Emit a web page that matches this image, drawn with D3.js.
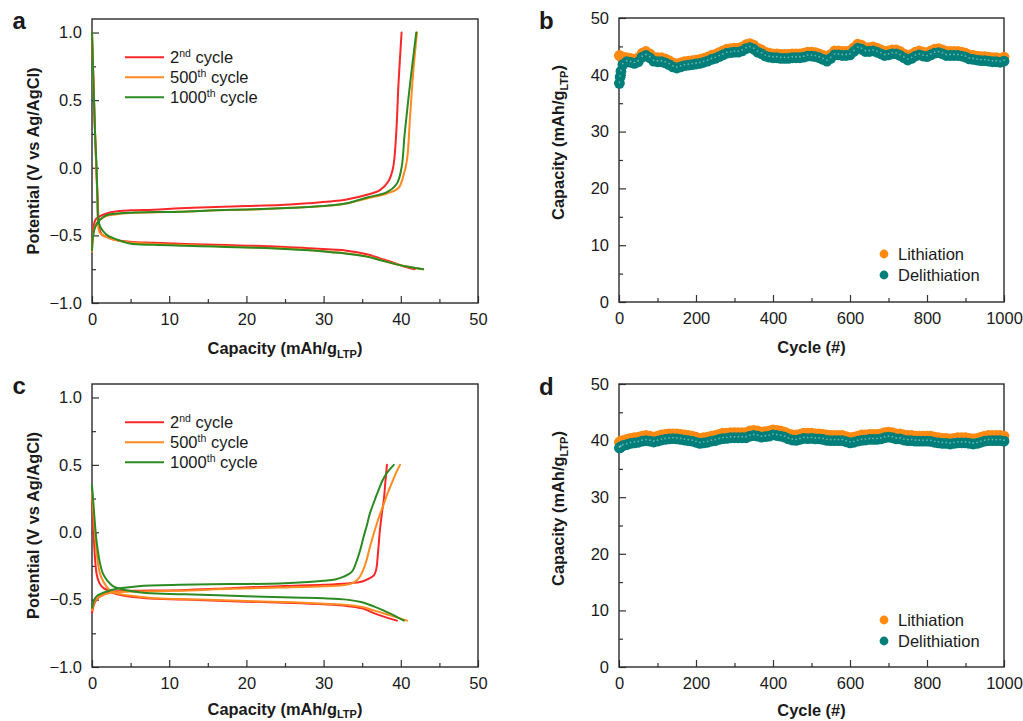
<!DOCTYPE html>
<html>
<head>
<meta charset="utf-8">
<script src="https://cdn.jsdelivr.net/npm/d3@7"></script>
<style>
  html, body { margin: 0; padding: 0; background: #ffffff; }
  svg { display: block; }
  text { font-family: "Liberation Sans", Arial, sans-serif; fill: #1a1a1a; }
</style>
</head>
<body>
<svg id="fig" width="1023" height="721"></svg>
<script>
// ---------- tick values ----------
const potentialTicks = [-1.0, -0.5, 0.0, 0.5, 1.0];
const potentialMinor = [-0.75, -0.25, 0.25, 0.75];
const capacityXTicks = [0, 10, 20, 30, 40, 50];
const capacityXMinor = [5, 15, 25, 35, 45];
const cycleTicks = [0, 200, 400, 600, 800, 1000];
const cycleMinor = [100, 300, 500, 700, 900];
const capacityYTicks = [0, 10, 20, 30, 40, 50];
const capacityYMinor = [5, 15, 25, 35, 45];

// ---------- legend labels ----------
const cycleLabelNum = ["2", "500", "1000"];
const cycleLabelSup = ["nd", "th", "th"];
const cycleColors = ["#f82828", "#ff8a1f", "#2b8a22"];
const efficiencyLabels = ["Lithiation", "Delithiation"];
const efficiencyColors = ["#ff8a12", "#007f7a"];

// ---------- panel a : [capacity, potential] ----------
const a2ndDischarge = [[0,1.0],[0.1,0.8],[0.26,0.5],[0.4,0.25],[0.56,0.0],[0.73,-0.24],[0.85,-0.38],[1.0,-0.46],[1.3,-0.495],[2,-0.515],[2.8,-0.53],[4.9,-0.547],[8,-0.555],[12,-0.563],[16,-0.57],[20,-0.576],[24.4,-0.584],[28,-0.595],[31,-0.605],[33,-0.613],[35.6,-0.64],[37.3,-0.67],[38.7,-0.695],[39.9,-0.72],[41.0,-0.74],[41.8,-0.75]];
const a500Discharge = [[0,1.0],[0.1,0.8],[0.26,0.5],[0.4,0.25],[0.56,0.0],[0.7,-0.25],[0.82,-0.44],[1.0,-0.48],[1.46,-0.5],[2.0,-0.515],[2.76,-0.53],[4.9,-0.553],[8,-0.563],[12,-0.572],[16,-0.58],[20,-0.587],[24.4,-0.596],[28,-0.608],[31,-0.622],[33,-0.633],[35.6,-0.655],[37.3,-0.68],[39.9,-0.72],[41.5,-0.737],[42.9,-0.75]];
const a1000Discharge = [[0,1.0],[0.1,0.8],[0.26,0.5],[0.4,0.25],[0.56,0.05],[0.7,-0.2],[0.82,-0.386],[1.1,-0.44],[1.46,-0.47],[2.0,-0.5],[2.76,-0.52],[4.9,-0.56],[8,-0.57],[12,-0.577],[16,-0.583],[20,-0.59],[24.4,-0.598],[28,-0.61],[31,-0.624],[33,-0.635],[35.6,-0.657],[37.3,-0.682],[39.9,-0.72],[41.5,-0.737],[42.9,-0.75]];
const a2ndCharge = [[0,-0.6],[0.1,-0.5],[0.25,-0.42],[0.5,-0.38],[1.0,-0.36],[1.8,-0.34],[2.8,-0.325],[5,-0.315],[8,-0.31],[11.4,-0.3],[16,-0.29],[20,-0.283],[24.4,-0.275],[28,-0.262],[30.8,-0.25],[33,-0.235],[35.6,-0.2],[37.3,-0.165],[38.4,-0.1],[39.0,0.0],[39.4,0.25],[39.7,0.62],[40.1,1.0]];
const a500Charge = [[0,-0.62],[0.1,-0.52],[0.3,-0.45],[0.6,-0.41],[1.0,-0.386],[1.9,-0.355],[3,-0.345],[5,-0.335],[8,-0.33],[11.4,-0.325],[16,-0.315],[20,-0.31],[24.4,-0.3],[28,-0.29],[31,-0.28],[33,-0.265],[35.6,-0.227],[38.2,-0.19],[39.7,-0.15],[40.3,-0.066],[40.8,0.057],[41.2,0.377],[41.6,0.7],[42.1,1.0]];
const a1000Charge = [[0,-0.61],[0.1,-0.52],[0.4,-0.44],[1.0,-0.386],[1.9,-0.35],[3,-0.34],[5,-0.333],[8,-0.328],[11.4,-0.325],[16,-0.315],[20,-0.308],[24.4,-0.3],[28,-0.29],[31,-0.278],[33,-0.262],[35.6,-0.22],[38.2,-0.18],[39.5,-0.116],[40.1,0.0],[40.5,0.25],[41.2,0.62],[42.0,1.0]];

// ---------- panel c : [capacity, potential] ----------
const c2ndDischarge = [[0,0.25],[0.2,0.0],[0.4,-0.2],[0.6,-0.31],[0.9,-0.37],[1.4,-0.41],[2.0,-0.43],[2.7,-0.45],[4,-0.47],[7,-0.49],[12,-0.5],[20,-0.515],[26,-0.525],[30,-0.535],[33,-0.547],[35,-0.565],[36.5,-0.6],[38,-0.63],[39.5,-0.656]];
const c500Discharge = [[0,0.3],[0.3,0.05],[0.6,-0.15],[1.0,-0.3],[1.5,-0.37],[2.2,-0.425],[3,-0.45],[4.8,-0.47],[8,-0.49],[14,-0.5],[20,-0.51],[26,-0.52],[30,-0.53],[33,-0.54],[35,-0.555],[36.5,-0.58],[38.5,-0.615],[40.8,-0.656]];
const c1000Discharge = [[0,0.35],[0.2,0.2],[0.4,0.05],[0.6,-0.07],[1.0,-0.22],[1.4,-0.305],[2.0,-0.36],[2.7,-0.4],[4,-0.425],[7,-0.45],[12,-0.46],[20,-0.475],[26,-0.485],[30,-0.49],[33,-0.5],[35,-0.52],[36.5,-0.55],[38.5,-0.6],[40.4,-0.656]];
const c2ndCharge = [[0,-0.6],[0.3,-0.53],[0.6,-0.5],[1.0,-0.478],[1.6,-0.46],[2.7,-0.44],[5,-0.435],[11.4,-0.43],[18,-0.415],[24.3,-0.4],[30,-0.39],[33,-0.38],[35,-0.365],[36,-0.34],[36.5,-0.32],[36.8,-0.28],[37.05,-0.15],[37.3,0.017],[37.55,0.14],[37.8,0.24],[38.0,0.37],[38.2,0.5]];
const c500Charge = [[0,-0.58],[0.3,-0.52],[0.7,-0.49],[1.2,-0.47],[2,-0.455],[3,-0.445],[5,-0.44],[11,-0.435],[18,-0.42],[24.3,-0.41],[30,-0.4],[33,-0.39],[34,-0.37],[34.7,-0.33],[35.2,-0.27],[35.6,-0.2],[36.0,-0.11],[36.5,-0.01],[37.1,0.1],[37.8,0.21],[38.3,0.29],[38.8,0.36],[39.3,0.43],[39.9,0.5]];
const c1000Charge = [[0,-0.56],[0.3,-0.5],[0.7,-0.47],[1.4,-0.45],[2.4,-0.43],[3.6,-0.416],[6,-0.4],[11.4,-0.39],[18,-0.385],[24.3,-0.38],[28,-0.37],[30,-0.36],[31.5,-0.35],[32.6,-0.33],[33.7,-0.29],[34.3,-0.21],[34.8,-0.12],[35.2,-0.03],[35.6,0.05],[36.0,0.14],[36.5,0.22],[37.1,0.31],[37.6,0.38],[38.2,0.44],[39.1,0.5]];

// ---------- panels b and d : capacity per cycle ----------
const cycleNo = [1,3,5,10,20,30,40,50,60,70,80,90,100,110,120,130,140,150,160,170,180,190,200,210,220,230,240,250,260,270,280,290,300,310,320,330,340,350,360,370,380,390,400,410,420,430,440,450,460,470,480,490,500,510,520,530,540,550,560,570,580,590,600,610,620,630,640,650,660,670,680,690,700,710,720,730,740,750,760,770,780,790,800,810,820,830,840,850,860,870,880,890,900,910,920,930,940,950,960,970,980,990,1000];

const bLithiation = [43.4,43.3,43.2,43.1,43.0,42.9,42.7,43.0,43.8,44.1,43.7,43.1,43.0,43.0,42.8,42.5,42.1,41.9,42.1,42.3,42.4,42.5,42.6,42.7,42.9,43.1,43.4,43.6,43.9,44.2,44.5,44.6,44.7,44.7,44.9,45.3,45.5,45.2,44.7,44.4,44.0,43.8,43.7,43.7,43.6,43.6,43.6,43.7,43.7,43.7,43.8,44.0,44.0,43.9,43.7,43.4,43.1,43.6,44.2,44.2,44.1,44.1,44.2,44.8,45.4,45.2,44.8,44.8,44.9,44.7,44.4,44.1,44.2,44.4,44.4,44.1,43.7,43.3,43.6,44.0,44.2,44.0,43.9,44.2,44.5,44.6,44.4,44.1,44.1,44.1,44.1,44.0,43.8,43.5,43.4,43.3,43.2,43.2,43.1,43.0,43.0,42.9,43.1];
const bDelithiation = [38.5,39.6,40.6,41.8,42.3,42.2,42.0,42.3,43.1,43.4,43.0,42.4,42.3,42.3,42.1,41.8,41.4,41.2,41.4,41.6,41.7,41.8,41.9,42.0,42.2,42.4,42.7,42.9,43.2,43.5,43.8,43.9,44.0,44.0,44.2,44.6,44.8,44.5,44.0,43.7,43.3,43.1,43.0,43.0,42.9,42.9,42.9,43.0,43.0,43.0,43.1,43.3,43.3,43.2,43.0,42.7,42.4,42.9,43.5,43.5,43.4,43.4,43.5,44.1,44.7,44.5,44.1,44.1,44.2,44.0,43.7,43.4,43.5,43.7,43.7,43.4,43.0,42.6,42.9,43.3,43.5,43.3,43.2,43.5,43.8,43.9,43.7,43.4,43.4,43.4,43.4,43.3,43.1,42.8,42.7,42.6,42.5,42.5,42.4,42.3,42.3,42.2,42.4];

const dLithiation = [39.7,39.8,39.9,40.0,40.2,40.4,40.5,40.6,40.8,40.9,40.8,40.6,40.8,41.0,41.1,41.2,41.2,41.2,41.1,41.0,40.9,40.8,40.6,40.4,40.5,40.6,40.8,40.9,41.1,41.3,41.3,41.4,41.4,41.4,41.4,41.4,41.7,41.8,41.7,41.5,41.6,41.7,41.9,41.8,41.7,41.5,41.2,41.0,41.0,41.1,41.3,41.3,41.3,41.2,41.2,41.1,41.0,40.9,40.9,40.9,40.9,40.7,40.5,40.6,40.8,41.0,41.0,41.1,41.1,41.1,41.2,41.4,41.5,41.4,41.2,41.2,41.0,40.9,40.9,40.8,40.8,40.8,40.8,40.8,40.6,40.5,40.4,40.4,40.3,40.4,40.5,40.5,40.5,40.4,40.3,40.4,40.6,40.8,40.9,40.9,40.9,40.9,40.8];
const dDelithiation = [38.7,38.8,38.9,39.1,39.3,39.5,39.6,39.7,39.9,40.0,39.9,39.75,39.9,40.1,40.2,40.3,40.35,40.3,40.2,40.1,40.0,39.9,39.7,39.5,39.6,39.7,39.9,40.0,40.2,40.35,40.4,40.5,40.5,40.5,40.5,40.5,40.8,40.9,40.8,40.6,40.7,40.8,41.0,40.9,40.8,40.6,40.3,40.1,40.05,40.2,40.4,40.35,40.4,40.3,40.3,40.2,40.05,40.0,40.0,40.0,40.0,39.8,39.6,39.7,39.9,40.05,40.1,40.2,40.2,40.2,40.3,40.5,40.6,40.5,40.3,40.3,40.1,40.0,40.0,39.9,39.9,39.9,39.9,39.85,39.7,39.6,39.5,39.5,39.4,39.5,39.6,39.6,39.6,39.5,39.4,39.5,39.7,39.9,40.0,40.0,40.0,40.0,39.9];

// ---------- drawing ----------
const svg = d3.select("#fig");
const FONT_TICK = 16.5;
const FONT_TITLE = 16.4;

function frameAxes(g, box, x, y, xt, xm, yt, ym, xfmt, yfmt) {
  const w = box.r - box.l, h = box.b - box.t;
  const gx = g.append("g").attr("transform", `translate(0,${h})`)
    .call(d3.axisBottom(x).tickValues(xt).tickSize(-7).tickPadding(10.5).tickFormat(xfmt));
  const gxm = g.append("g").attr("transform", `translate(0,${h})`)
    .call(d3.axisBottom(x).tickValues(xm).tickSize(-4).tickFormat(""));
  const gy = g.append("g")
    .call(d3.axisLeft(y).tickValues(yt).tickSize(-7).tickPadding(10).tickFormat(yfmt));
  const gym = g.append("g")
    .call(d3.axisLeft(y).tickValues(ym).tickSize(-4).tickFormat(""));
  [gx, gxm, gy, gym].forEach(a => {
    a.select(".domain").remove();
    a.selectAll(".tick line").attr("stroke", "#333").attr("stroke-width", 1.2);
    a.selectAll(".tick text").attr("font-size", FONT_TICK)
      .attr("font-family", '"Liberation Sans", Arial, sans-serif').attr("fill", "#1a1a1a");
  });
  g.append("rect").attr("x", 0).attr("y", 0).attr("width", w).attr("height", h)
    .attr("fill", "none").attr("stroke", "#2a2a2a").attr("stroke-width", 1.4);
}

function subTitle(sel, main, sub, tail, drop) {
  sel.append("tspan").text(main);
  sel.append("tspan").text(sub).attr("font-size", 11).attr("dy", drop);
  sel.append("tspan").text(tail).attr("dy", -drop);
}

function potentialPanel(box, curves, letter, legendY, titleDrop) {
  const g = svg.append("g").attr("transform", `translate(${box.l},${box.t})`);
  const w = box.r - box.l, h = box.b - box.t;
  const x = d3.scaleLinear().domain([0, 50]).range([0, w]);
  const y = d3.scaleLinear().domain([-1.0, 1.1]).range([h, 0]);

  frameAxes(g, box, x, y, capacityXTicks, capacityXMinor, potentialTicks, potentialMinor,
    d3.format("d"), d3.format(".1f"));

  const line = d3.line().x(d => x(d[0])).y(d => y(d[1])).curve(d3.curveCatmullRom.alpha(0.5));
  curves.forEach((pair, i) => {
    pair.forEach(data => {
      g.append("path").datum(data).attr("d", line)
        .attr("fill", "none").attr("stroke", cycleColors[i])
        .attr("stroke-width", 2).attr("stroke-linejoin", "round").attr("stroke-linecap", "round");
    });
  });

  // legend
  cycleLabelNum.forEach((n, i) => {
    const ly = legendY + i * 20;
    svg.append("line").attr("x1", 125).attr("x2", 164).attr("y1", ly).attr("y2", ly)
      .attr("stroke", cycleColors[i]).attr("stroke-width", 2);
    const t = svg.append("text").attr("x", 170).attr("y", ly + 6).attr("font-size", FONT_TICK);
    t.append("tspan").text(n);
    t.append("tspan").text(cycleLabelSup[i]).attr("font-size", 10.5).attr("dy", -6.5);
    t.append("tspan").text(" cycle").attr("dy", 6.5);
  });

  // axis titles
  const xt = svg.append("text").attr("x", (box.l + box.r) / 2).attr("y", Math.min(box.b + 50.5, 715))
    .attr("text-anchor", "middle").attr("font-size", FONT_TITLE).attr("font-weight", "bold");
  subTitle(xt, "Capacity (mAh/g", "LTP", ")", titleDrop);
  svg.append("text").attr("transform", `translate(39,${(box.t + box.b) / 2}) rotate(-90)`)
    .attr("text-anchor", "middle").attr("font-size", FONT_TITLE).attr("font-weight", "bold")
    .text("Potential (V vs Ag/AgCl)");

  svg.append("text").attr("x", 12.5).attr("y", box.t + 10).attr("font-size", 24)
    .attr("font-weight", "bold").text(letter);
}

function cyclePanel(box, lith, delith, letter, titleCenter) {
  const g = svg.append("g").attr("transform", `translate(${box.l},${box.t})`);
  const w = box.r - box.l, h = box.b - box.t;
  const x = d3.scaleLinear().domain([0, 1000]).range([0, w]);
  const y = d3.scaleLinear().domain([0, 50]).range([h, 0]);

  frameAxes(g, box, x, y, cycleTicks, cycleMinor, capacityYTicks, capacityYMinor,
    d3.format("d"), d3.format("d"));

  const R = 5.4;
  g.append("g").selectAll("circle").data(cycleNo).join("circle")
    .attr("cx", d => x(d)).attr("cy", (d, i) => y(lith[i])).attr("r", R)
    .attr("fill", efficiencyColors[0]);
  g.append("g").selectAll("circle").data(cycleNo).join("circle")
    .attr("cx", d => x(d)).attr("cy", (d, i) => y(delith[i])).attr("r", R)
    .attr("fill", efficiencyColors[1]);
  // small highlight at each marker centre
  g.append("g").selectAll("circle").data(cycleNo).join("circle")
    .attr("cx", d => x(d)).attr("cy", (d, i) => y(delith[i]) - 1).attr("r", 0.9)
    .attr("fill", "#cfe9e6").attr("opacity", 0.5);

  // legend
  efficiencyLabels.forEach((lab, i) => {
    const ly = box.t + 236 + i * 21;
    svg.append("circle").attr("cx", 884).attr("cy", ly).attr("r", 4.4).attr("fill", efficiencyColors[i]);
    svg.append("text").attr("x", 898).attr("y", ly + 5.8).attr("font-size", FONT_TICK).text(lab);
  });

  svg.append("text").attr("x", (box.l + box.r) / 2).attr("y", Math.min(box.b + 50.5, 716))
    .attr("text-anchor", "middle").attr("font-size", FONT_TITLE).attr("font-weight", "bold")
    .text("Cycle (#)");
  const yt = svg.append("text").attr("transform", `translate(564,${titleCenter}) rotate(-90)`)
    .attr("text-anchor", "middle").attr("font-size", FONT_TITLE).attr("font-weight", "bold");
  subTitle(yt, "Capacity (mAh/g", "LTP", ")", 4);

  svg.append("text").attr("x", 539).attr("y", box.t + 10.5).attr("font-size", 24)
    .attr("font-weight", "bold").text(letter);
}

const boxA = { l: 92, t: 19, r: 478, b: 303 };
const boxB = { l: 619, t: 18, r: 1004, b: 302 };
const boxC = { l: 92, t: 384, r: 478, b: 667 };
const boxD = { l: 619, t: 384, r: 1004, b: 667 };

potentialPanel(boxA, [[a2ndDischarge, a2ndCharge], [a500Discharge, a500Charge], [a1000Discharge, a1000Charge]], "a", 57.3, 4);
cyclePanel(boxB, bLithiation, bDelithiation, "b", 142.5);
potentialPanel(boxC, [[c2ndDischarge, c2ndCharge], [c500Discharge, c500Charge], [c1000Discharge, c1000Charge]], "c", 422.3, 2.5);
cyclePanel(boxD, dLithiation, dDelithiation, "d", 508.5);
</script>
</body>
</html>
